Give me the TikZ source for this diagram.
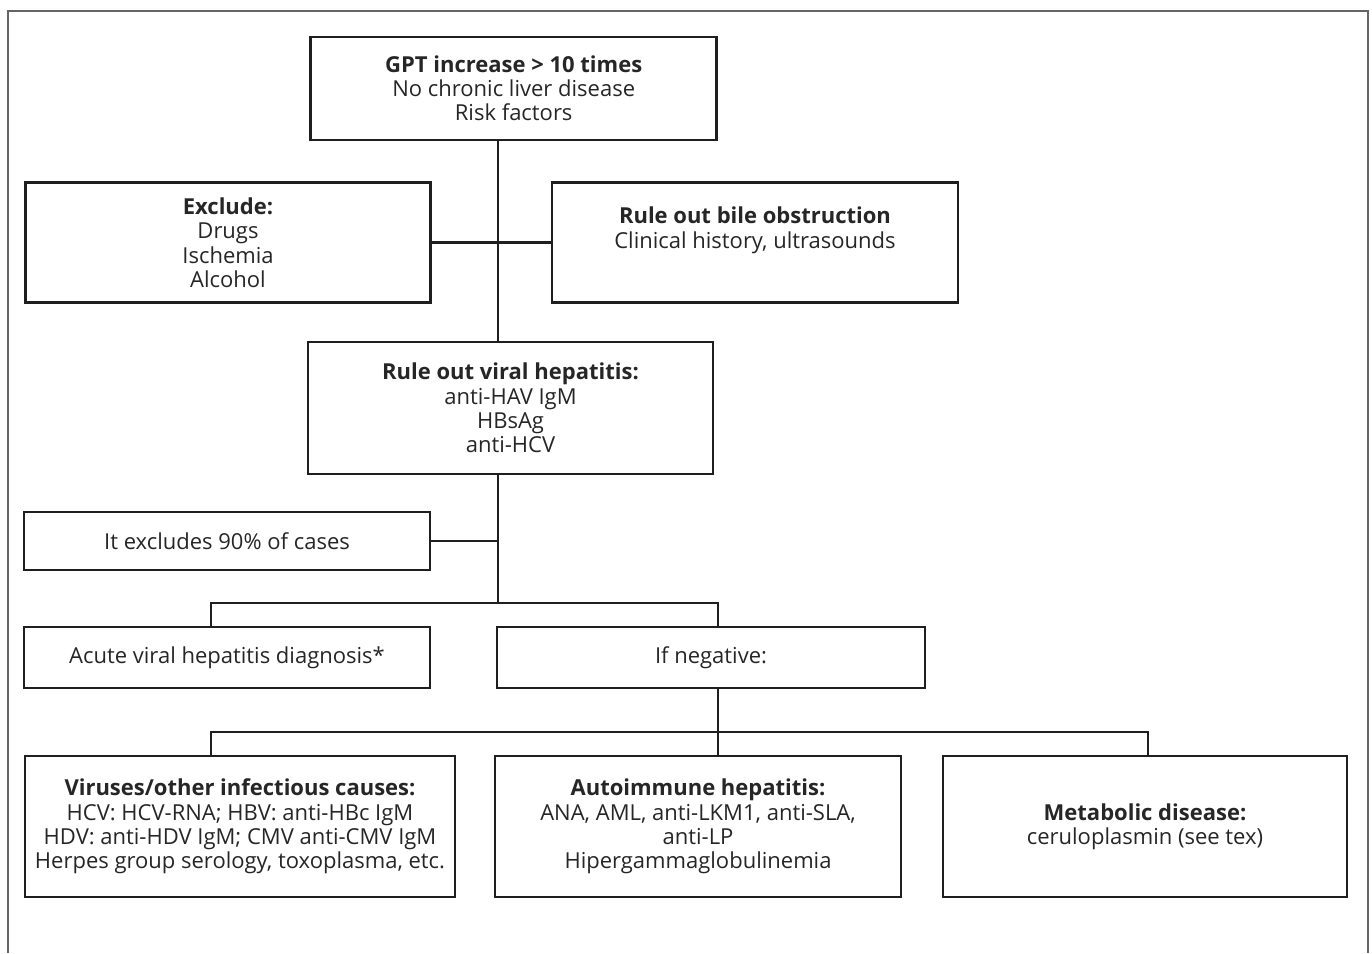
\documentclass[tikz,border=0pt]{standalone}
\usepackage{fontspec}
\setmainfont{Open Sans}
\begin{document}
\begin{tikzpicture}[x=1pt,y=-1pt,
  box/.style={draw=black!88, line width=2.6pt, inner sep=0pt, align=center,
    text=black!85, font=\fontsize{22}{24.2}\selectfont},
  conn/.style={draw=black!88, line width=2.6pt},
  frame/.style={draw=black!60, line width=1.8pt}]
\useasboundingbox (0,0) rectangle (1372,953);
\draw[frame] (8.3,953) -- (8.3,10.7) -- (1368,10.7) -- (1368,953);

\node[box, minimum width=406pt, minimum height=103pt] (top) at (513.7,88.4)
  {\textbf{GPT increase > 10 times}\\No chronic liver disease\\Risk factors};
\node[box, minimum width=405pt, minimum height=120pt] (excl) at (228,242.7)
  {\textbf{Exclude:}\\Drugs\\Ischemia\\Alcohol};
\node[box, minimum width=406pt, minimum height=120pt] (bile) at (755,242.7)
  {\textbf{Rule out bile obstruction}\\Clinical history, ultrasounds\\[6pt]};
\node[box, minimum width=405pt, minimum height=132pt] (viral) at (510.5,407.9)
  {\textbf{Rule out viral hepatitis:}\\anti-HAV IgM\\HBsAg\\anti-HCV};
\node[box, minimum width=406pt, minimum height=58pt] (its) at (227,541)
  {It excludes 90\% of cases};
\node[box, minimum width=406pt, minimum height=61pt] (acute) at (227,657.5)
  {Acute viral hepatitis diagnosis*};
\node[box, minimum width=428pt, minimum height=61pt] (neg) at (711,657.5)
  {If negative:};
\node[box, minimum width=430pt, minimum height=141pt] (virus) at (240,826.5)
  {\textbf{Viruses/other infectious causes:}\\HCV: HCV-RNA; HBV: anti-HBc IgM\\HDV: anti-HDV IgM; CMV anti-CMV IgM\\Herpes group serology, toxoplasma, etc.};
\node[box, minimum width=406pt, minimum height=141pt] (auto) at (698,826.5)
  {\textbf{Autoimmune hepatitis:}\\ANA, AML, anti-LKM1, anti-SLA,\\anti-LP\\Hipergammaglobulinemia};
\node[box, minimum width=404pt, minimum height=141pt] (meta) at (1145,826.5)
  {\textbf{Metabolic disease:}\\ceruloplasmin (see tex)};

\coordinate (m) at (498,0);
\coordinate (h1) at (498,603);
\coordinate (aL) at (211,603);
\coordinate (aR) at (718,603);
\coordinate (bL) at (211,732);
\coordinate (bM) at (718,732);
\coordinate (bR) at (1148,732);

\draw[conn] (m |- top.south) -- (m |- viral.north);
\draw[conn] (excl.east) -- (bile.west);
\draw[conn] (m |- viral.south) -- (h1);
\draw[conn] (its.east) -- (its.east -| m);
\draw[conn] (aL |- acute.north) -- (aL) -- (aR) -- (aR |- neg.north);
\draw[conn] (bM |- neg.south) -- (bM |- auto.north);
\draw[conn] (bL |- virus.north) -- (bL) -- (bR) -- (bR |- meta.north);
\end{tikzpicture}
\end{document}
